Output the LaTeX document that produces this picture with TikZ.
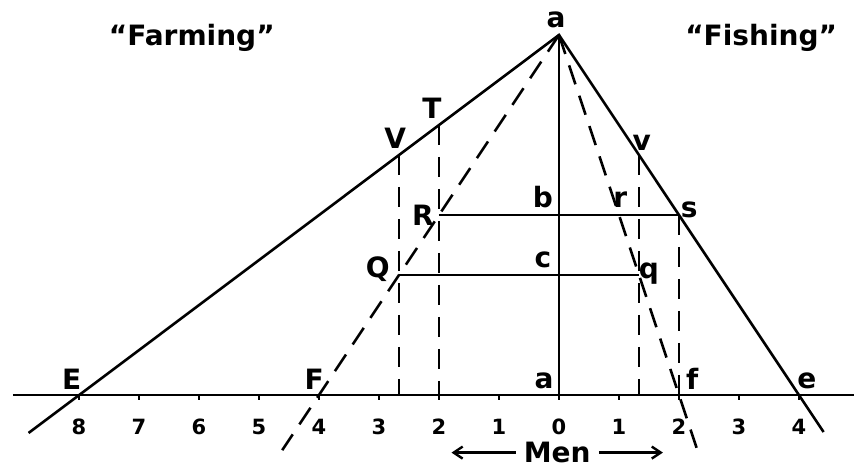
\documentclass[tikz,border=0pt]{standalone}
\usepackage{fontspec}
\setmainfont{DejaVu Sans}
\usetikzlibrary{arrows.meta}
\begin{document}
\begin{tikzpicture}[x=60pt,y=60pt,line width=2.6pt,
  dline/.style={dash pattern=on 20pt off 12pt},
  lbl/.style={font=\fontsize{28}{30}\selectfont\bfseries,inner sep=0pt},
  ttl/.style={font=\fontsize{28}{30}\selectfont\bfseries,inner sep=0pt},
  num/.style={font=\fontsize{21}{23}\selectfont\bfseries,inner sep=0pt},
  arr/.style={-{Straight Barb[length=9pt,width=12pt,line width=2.4pt]}}]
\useasboundingbox (-9.3167,-1.2333) rectangle (4.9167,6.5833);
% key points
\coordinate (A) at (0,6);
\coordinate (O) at (0,0);
\coordinate (E) at (-8,0);
\coordinate (F) at (-4,0);
\coordinate (f) at (2,0);
\coordinate (e) at (4,0);
\coordinate (Eend) at (-8.84,-0.633);
\coordinate (eend) at (4.41,-0.617);
\coordinate (Fend) at (-4.613,-0.92);
\coordinate (fend) at (2.293,-0.88);
\coordinate (V) at (-8/3,4);
\coordinate (T) at (-2,4.5);
\coordinate (R) at (-2,3);
\coordinate (Q) at (-8/3,2);
\coordinate (b) at (0,3);
\coordinate (c) at (0,2);
\coordinate (r) at (1,3);
\coordinate (s) at (2,3);
\coordinate (q) at (4/3,2);
\coordinate (v) at (4/3,4);
\coordinate (V0) at (-8/3,0);
\coordinate (T0) at (-2,0);
\coordinate (v0) at (4/3,0);
\coordinate (s0) at (2,0);
\coordinate (axL) at (-9.1,0);
\coordinate (axR) at (4.92,0);
% axis and ticks
\draw (axL) -- (axR);
\foreach \x in {-8,...,4}{
  \draw (\x,0) -- (\x,-0.09);
  \pgfmathtruncatemacro{\ax}{abs(\x)}
  \node[num] (n\x) at (\x,-0.53) {\ax};
}
% main lines
\draw (Eend) -- (A) -- (eend);
\draw (A) -- (O);
\draw (R) -- (s);
\draw (Q) -- (q);
\draw[dline] (A) -- (Fend);
\draw[dline] (A) -- (fend);
\draw[dline] (V) -- (V0);
\draw[dline] (T) -- (T0);
\draw[dline] (v) -- (v0);
\draw[dline] (s) -- (s0);
% labels
\node[ttl] (farm) at (-6.12,5.95) {“Farming”};
\node[ttl] (fish) at (3.37,5.95) {“Fishing”};
\node[lbl] (la) at (-0.05,6.25) {a};
\node[lbl] (lV) at (-2.73,4.28) {V};
\node[lbl] (lT) at (-2.12,4.77) {T};
\node[lbl] (lR) at (-2.27,3.0) {R};
\node[lbl] (lQ) at (-3.02,2.1) {Q};
\node[lbl] (lb) at (-0.27,3.3) {b};
\node[lbl] (lc) at (-0.27,2.25) {c};
\node[lbl] (lr) at (1.02,3.25) {r};
\node[lbl] (lv) at (1.38,4.2) {v};
\node[lbl] (ls) at (2.17,3.08) {s};
\node[lbl] (lq) at (1.5,2.02) {q};
\node[lbl] (lE) at (-8.12,0.26) {E};
\node[lbl] (lF) at (-4.08,0.26) {F};
\node[lbl] (la0) at (-0.25,0.24) {a};
\node[lbl] (lf) at (2.22,0.27) {f};
\node[lbl] (le) at (4.13,0.24) {e};
\node[lbl] (men) at (-0.03,-0.96) {Men};
\draw[arr] ([xshift=-7pt]men.west) -- ++(-64pt,0);
\draw[arr] ([xshift=7pt]men.east) -- ++(64pt,0);
\end{tikzpicture}
\end{document}
